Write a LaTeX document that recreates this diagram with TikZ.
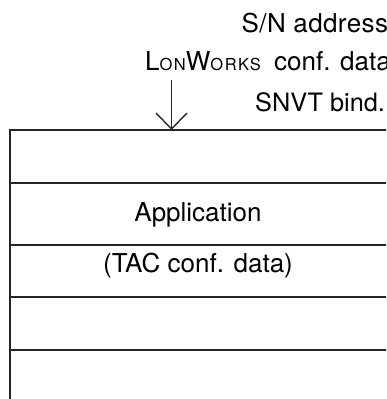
\documentclass[tikz,border=0pt]{standalone}
\usepackage{fontspec}
\setmainfont{TeX Gyre Heros}
\usetikzlibrary{arrows.meta}
% small capitals built from scaled, slightly tracked capitals
\newcommand{\fakesc}[1]{{\fontsize{16.5}{18}\selectfont\addfontfeature{LetterSpace=9}#1}}
\begin{document}
\begin{tikzpicture}[x=1pt,y=-1pt,
  rule/.style={line width=1.4pt, draw=black!85, line join=miter},
  lbl/.style={inner sep=0pt, font=\fontsize{26}{30}\selectfont},
  feed/.style={line width=1.4pt, draw=black!85, -{Straight Barb[length=16pt,width=31pt,line width=1.4pt]}},
]
\useasboundingbox (0,0) rectangle (386,399);
\clip (0,0) rectangle (386,399);

% the layer stack, open towards the right and the bottom
\draw[rule] (10,410) -- (10,130) -- (400,130);
\foreach \y in {183,245,297,350}
  \draw[rule] (10,\y) -- (400,\y);
\coordinate (stacktop) at (171.5,130);

% incoming configuration items
\node[lbl, anchor=base west] (sn)   at (241.5,32)
  {\addfontfeature{LetterSpace=1.5}S/N address};
\node[lbl, anchor=base west] (lon)  at (145,70.5)
  {\makebox[129pt][l]{L\fakesc{ON}W\fakesc{ORKS}}conf. data};
\node[lbl, anchor=base west, font=\fontsize{25.3}{30}\selectfont] (snvt) at (255,111) {SNVT bind.};

\coordinate (feedstart) at (171.5,80);
\draw[feed] (feedstart) -- (stacktop);

% layer labels
\node[lbl, anchor=base] (app) at (198,221) {Application};
\node[lbl, anchor=base] (tac) at (198,272) {(TAC conf. data)};
\end{tikzpicture}
\end{document}
